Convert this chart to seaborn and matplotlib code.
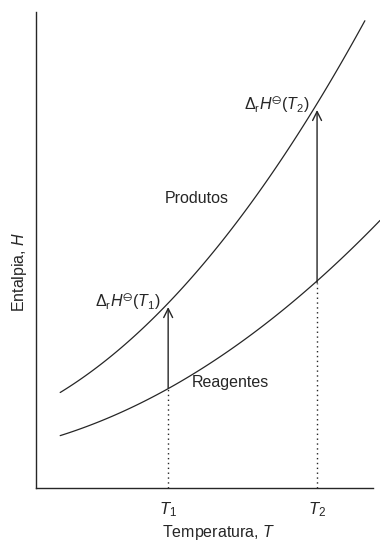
import matplotlib
matplotlib.use('Agg')
import matplotlib.pyplot as plt
import seaborn as sns

# curve points (arbitrary units, 0-10 on both axes)
prod_T = [0.70, 2.15, 3.84, 5.93, 6.66, 8.14, 9.56]
prod_H = [2.06, 2.69, 3.80, 5.78, 6.47, 7.94, 9.83]
reag_T = [0.70, 3.84, 5.93, 7.59, 8.17, 10.0]
reag_H = [1.09, 2.10, 3.09, 3.95, 4.31, 5.65]

# the two temperatures and enthalpies at them
T_marks = [3.84, 8.17]
H_reag = [2.10, 4.31]
H_prod = [3.80, 7.94]
T_labels = ['$T_1$', '$T_2$']
dH_labels = [r'$\Delta_{\mathrm{r}}H^{\ominus}(T_1)$', r'$\Delta_{\mathrm{r}}H^{\ominus}(T_2)$']

sns.set_style('ticks')
plt.rcParams['font.family'] = ['Liberation Sans', 'DejaVu Sans']
plt.rcParams['mathtext.fontset'] = 'custom'
plt.rcParams['mathtext.rm'] = 'Liberation Sans'
plt.rcParams['mathtext.it'] = 'Liberation Sans:italic'
plt.rcParams['mathtext.fallback'] = 'stixsans'

ink = '#262626'
fig = plt.figure(figsize=(3.8, 5.44), dpi=100)
ax = fig.add_axes([0.095, 0.103, 0.905, 0.875])

sns.regplot(x=prod_T, y=prod_H, order=2, ci=None, scatter=False, ax=ax,
            line_kws=dict(color=ink, lw=0.9))
sns.regplot(x=reag_T, y=reag_H, order=2, ci=None, scatter=False, ax=ax,
            line_kws=dict(color=ink, lw=0.9))

# dotted drop lines and the reaction enthalpy arrows
ax.vlines(T_marks, 0, H_reag, colors=ink, linestyles=(0, (1, 2.5)), lw=1.0)
for t, hr, hp, lab in zip(T_marks, H_reag, H_prod, dH_labels):
    ax.annotate('', xy=(t, hp), xytext=(t, hr),
                arrowprops=dict(arrowstyle='->', color=ink, lw=1.0,
                                shrinkA=0, shrinkB=0, mutation_scale=16))
    ax.text(t - 0.22, hp + 0.1, lab, ha='right', va='center', fontsize=11.5, color=ink)

ax.text(3.75, 6.09, 'Produtos', ha='left', va='center', fontsize=11.5, color=ink)
ax.text(4.53, 2.21, 'Reagentes', ha='left', va='center', fontsize=11.5, color=ink)

ax.set_xlim(0, 10)
ax.set_ylim(0, 10)
ax.set_xticks(T_marks)
ax.set_xticklabels(T_labels, fontsize=12, color=ink)
ax.set_yticks([])
ax.tick_params(axis='x', length=0, pad=9)
ax.set_xlabel('Temperatura, $T$', fontsize=11.5, color=ink)
ax.set_ylabel('Entalpia, $H$', fontsize=11.5, color=ink)
ax.xaxis.set_label_coords(0.53, -0.074)
ax.yaxis.set_label_coords(-0.022, 0.454)
sns.despine(ax=ax)
for s in ['left', 'bottom']:
    ax.spines[s].set_color(ink)
    ax.spines[s].set_linewidth(1.0)
ax.spines['bottom'].set_bounds(0, 9.8)

fig.savefig('out.png', dpi=100)
